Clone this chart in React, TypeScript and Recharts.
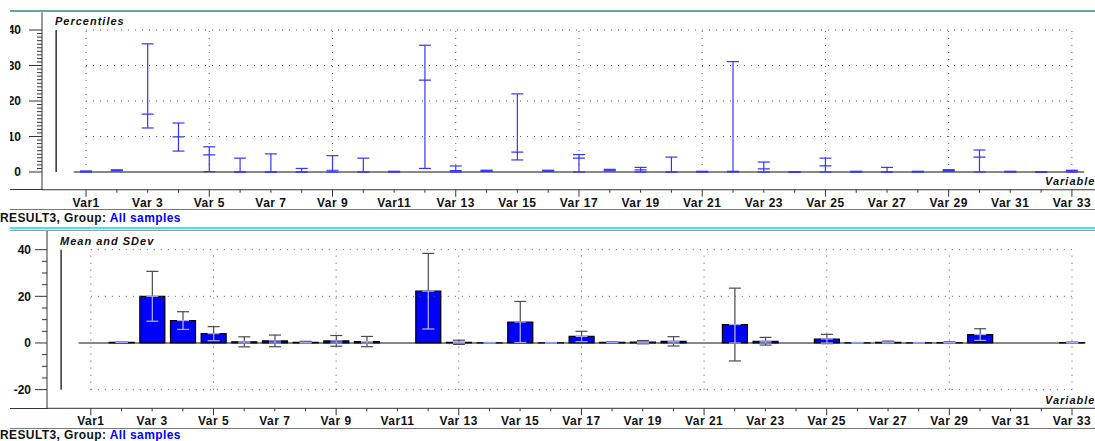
import React from 'react';
import { ComposedChart, Bar, Scatter, ErrorBar, XAxis, YAxis, ReferenceLine } from 'recharts';

const VARIABLES = [
  'Var1', 'Var 2', 'Var 3', 'Var 4', 'Var 5', 'Var 6', 'Var 7', 'Var 8', 'Var 9', 'Var 10',
  'Var11', 'Var 12', 'Var 13', 'Var 14', 'Var 15', 'Var 16', 'Var 17', 'Var 18', 'Var 19', 'Var 20',
  'Var 21', 'Var 22', 'Var 23', 'Var 24', 'Var 25', 'Var 26', 'Var 27', 'Var 28', 'Var 29', 'Var 30',
  'Var 31', 'Var 32', 'Var 33',
];

// percentiles per variable: lower, median, upper
const P_LOW = [
  0, 0.3, 12.4, 5.9, 0.1, 0, 0, 0, 0, 0,
  0, 1.0, 0, 0.2, 3.4, 0.2, 0, 0.3, 0, 0,
  0, 0, 0, 0, 0, 0, 0, 0, 0.2, 0,
  0, 0, 0,
];
const P_MED = [
  0.1, 0.45, 16.3, 9.9, 4.8, 0, 0, 0, 0.5, 0,
  0.1, 25.9, 0.4, 0.35, 5.6, 0.35, 3.9, 0.5, 0.6, 0,
  0.1, 0.15, 0.9, 0, 1.7, 0.1, 0, 0.1, 0.45, 4.2,
  0.1, 0, 0.3,
];
const P_HIGH = [
  0.3, 0.6, 36.1, 13.8, 7.1, 3.9, 5.1, 1.0, 4.6, 3.9,
  0.2, 35.7, 1.7, 0.5, 22.0, 0.5, 4.9, 0.75, 1.3, 4.2,
  0.2, 31.1, 2.8, 0, 3.9, 0.2, 1.3, 0.2, 0.65, 6.2,
  0.2, 0, 0.5,
];

// mean and standard deviation per variable
const MEAN = [
  0, 0.3, 20.0, 9.6, 4.0, 0.5, 0.9, 0.3, 0.9, 0.6,
  0, 22.2, 0.3, 0.1, 9.0, 0.1, 2.8, 0.3, 0.35, 0.7,
  0, 7.9, 0.75, 0, 1.7, 0.1, 0.3, 0.1, 0.2, 3.6,
  0, 0, 0.2,
];
const SDEV = [
  0, 0.1, 10.7, 3.8, 3.0, 2.15, 2.5, 0.4, 2.3, 2.2,
  0, 16.2, 0.9, 0.1, 8.8, 0.1, 2.2, 0.2, 0.7, 2.0,
  0, 15.6, 1.65, 0, 2.0, 0.1, 0.5, 0.1, 0.3, 2.5,
  0, 0, 0.2,
];

const TOP_Y_LABELS = [0, 10, 20, 30, 40];
const BOTTOM_Y_LABELS = [-20, 0, 20, 40];

const FONT = '"Liberation Sans", Arial, sans-serif';
const INDEX_DOMAIN: [number, number] = [-0.43, 33.75];
const X_TICKS = VARIABLES.map((_, i) => i + 1);
const TOP_Y_TICKS = Array.from({ length: 41 }, (_, i) => i);
const BOTTOM_Y_TICKS = Array.from({ length: 13 }, (_, i) => -20 + i * 5);

const LINE_BLUE = '#3535ff';
const BAR_BLUE = '#0000ff';
const DOT = '#555';

const topData = VARIABLES.map((name, i) => ({
  idx: i + 1,
  name,
  median: P_MED[i],
  spread: [P_MED[i] - P_LOW[i], P_HIGH[i] - P_MED[i]],
}));

const bottomData = VARIABLES.map((name, i) => {
  const m = MEAN[i];
  const s = SDEV[i];
  return {
    idx: i + 1,
    name,
    mean: m,
    outline: m,
    sd: s > 0 ? s : null,
    // part of the sd line that sits inside the bar
    inner: m > 0 && s > 0 ? [Math.min(s, m), 0] : null,
  };
});

function VarTick(props: any) {
  const { x, y, payload } = props;
  const i = payload.value as number;
  const long = (i - 1) % 4 === 0;
  return (
    <g>
      <line x1={x} y1={y} x2={x} y2={y + (long ? 7 : 3)} stroke="#333" />
      {i % 2 === 1 && (
        <text
          x={x}
          y={y + 17}
          textAnchor="middle"
          fontFamily={FONT}
          fontWeight="bold"
          fontSize={12}
          letterSpacing={0.5}
          fill="#111"
        >
          {VARIABLES[i - 1]}
        </text>
      )}
    </g>
  );
}

function makeYTick(labels: number[], majorLen: number, minorLen: number, labelGap: number) {
  return function YTick(props: any) {
    const { x, y, payload } = props;
    const v = payload.value as number;
    const major = labels.includes(v);
    return (
      <g>
        <line x1={x - (major ? majorLen : minorLen)} y1={y} x2={x} y2={y} stroke="#333" />
        {major && (
          <text
            x={x - labelGap}
            y={y}
            dy="0.36em"
            textAnchor="end"
            fontFamily={FONT}
            fontWeight="bold"
            fontSize={12}
            fill="#111"
          >
            {v}
          </text>
        )}
      </g>
    );
  };
}

const TopYTick = makeYTick(TOP_Y_LABELS, 13, 5, 21);
const BottomYTick = makeYTick(BOTTOM_Y_LABELS, 12, 5, 16);

function MedianTick(props: any) {
  const { cx, cy } = props;
  return <line x1={cx - 6} x2={cx + 6} y1={cy} y2={cy} stroke={LINE_BLUE} strokeWidth={1.2} />;
}

function gridLines(yMin: number, yMax: number, yLines: number[]) {
  const verticals = X_TICKS.filter((i) => (i - 1) % 4 === 0);
  return [
    ...yLines.map((v) => (
      <ReferenceLine
        key={`h${v}`}
        segment={[{ x: 1, y: v }, { x: 33, y: v }]}
        stroke={DOT}
        strokeDasharray="1 6"
      />
    )),
    ...verticals.map((i) => (
      <ReferenceLine
        key={`v${i}`}
        segment={[{ x: i, y: yMin }, { x: i, y: yMax }]}
        stroke={DOT}
        strokeDasharray="1 6"
      />
    )),
    <ReferenceLine
      key="inner-axis"
      segment={[{ x: 0.03, y: yMin }, { x: 0.03, y: yMax }]}
      stroke="#333"
      strokeWidth={1.5}
    />,
    <ReferenceLine
      key="zero"
      segment={[{ x: 0.6, y: 0 }, { x: 33.4, y: 0 }]}
      stroke="#111"
      strokeWidth={1.2}
    />,
  ];
}

function hLine(left: number, top: number, width: number, height: number, color: string) {
  return (
    <div style={{ position: 'absolute', left, top, width, height, background: color }} />
  );
}

const labelStyle: React.CSSProperties = {
  position: 'absolute',
  fontFamily: FONT,
  fontWeight: 'bold',
  whiteSpace: 'nowrap',
  lineHeight: 1,
};

function Footer({ top }: { top: number }) {
  return (
    <div style={{ ...labelStyle, left: 0, top, fontSize: 12, letterSpacing: 0.4, color: '#111' }}>
      RESULT3, Group: <span style={{ color: '#0000ff' }}>All samples</span>
    </div>
  );
}

export default function App() {
  return (
    <div
      style={{
        position: 'absolute',
        left: 0,
        top: 0,
        width: 1095,
        height: 441,
        background: '#fff',
        overflow: 'hidden',
      }}
    >
      <div style={{ position: 'absolute', left: 0, top: 0 }}>
        <ComposedChart
          width={1095}
          height={230}
          data={topData}
          margin={{ top: 12.25, right: 0, bottom: 10.25, left: 0 }}
        >
          <XAxis
            dataKey="idx"
            type="number"
            domain={INDEX_DOMAIN}
            ticks={X_TICKS}
            interval={0}
            tick={<VarTick />}
            tickLine={false}
            tickSize={0}
            tickMargin={0}
            height={30}
            axisLine={{ stroke: '#333' }}
            allowDataOverflow
          />
          <YAxis
            type="number"
            domain={[-5, 45]}
            ticks={TOP_Y_TICKS}
            interval={0}
            tick={<TopYTick />}
            tickLine={false}
            tickSize={0}
            tickMargin={0}
            width={42}
            axisLine={{ stroke: '#333' }}
            allowDataOverflow
          />
          {gridLines(0, 40, [10, 20, 30, 40])}
          <Scatter dataKey="median" shape={MedianTick} isAnimationActive={false}>
            <ErrorBar
              dataKey="spread"
              direction="y"
              width={6}
              stroke={LINE_BLUE}
              strokeWidth={1.2}
              isAnimationActive={false}
            />
          </Scatter>
        </ComposedChart>
      </div>

      <div style={{ position: 'absolute', left: 0, top: 220 }}>
        <ComposedChart
          width={1095}
          height={221}
          data={bottomData}
          margin={{ top: 11, right: 0, bottom: 7.7, left: 0 }}
          barGap={-25}
        >
          <XAxis
            dataKey="idx"
            type="number"
            domain={INDEX_DOMAIN}
            ticks={X_TICKS}
            interval={0}
            tick={<VarTick />}
            tickLine={false}
            tickSize={0}
            tickMargin={0}
            height={25}
            axisLine={{ stroke: '#333' }}
            allowDataOverflow
          />
          <YAxis
            type="number"
            domain={[-28, 48]}
            ticks={BOTTOM_Y_TICKS}
            interval={0}
            tick={<BottomYTick />}
            tickLine={false}
            tickSize={0}
            tickMargin={0}
            width={47}
            axisLine={{ stroke: '#333' }}
            allowDataOverflow
          />
          {gridLines(-20, 40, [-20, 20, 40])}
          <Bar dataKey="mean" fill={BAR_BLUE} barSize={25} isAnimationActive={false}>
            <ErrorBar dataKey="sd" direction="y" width={6} stroke="#4a4a4a" strokeWidth={1.2} isAnimationActive={false} />
            <ErrorBar dataKey="inner" direction="y" width={6} stroke="#a8a8ff" strokeWidth={1.2} isAnimationActive={false} />
          </Bar>
          <Bar dataKey="outline" fill="none" stroke="#000" strokeWidth={1.2} barSize={25} isAnimationActive={false} />
        </ComposedChart>
      </div>

      {/* window frame lines */}
      {hLine(10, 10, 1085, 2, '#5fa9a4')}
      {hLine(10, 189, 33, 1, '#333')}
      {hLine(10, 209, 1085, 1, '#777')}
      {hLine(10, 227, 1085, 2, '#3de6f2')}
      {hLine(10, 229.5, 1085, 1, '#999')}
      {hLine(10, 408, 38, 1, '#333')}
      {hLine(10, 428, 1085, 1, '#777')}
      <div style={{ position: 'absolute', left: 0, top: 20, width: 10, height: 160, background: '#fff' }} />

      <div style={{ ...labelStyle, left: 55, top: 15.5, fontSize: 11, fontStyle: 'italic', letterSpacing: 1, color: '#111' }}>
        Percentiles
      </div>
      <div style={{ ...labelStyle, left: 60, top: 235.5, fontSize: 11, fontStyle: 'italic', letterSpacing: 1, color: '#111' }}>
        Mean and SDev
      </div>
      <div style={{ ...labelStyle, left: 1045, top: 175.5, fontSize: 11, fontStyle: 'italic', letterSpacing: 1, color: '#111' }}>
        Variable
      </div>
      <div style={{ ...labelStyle, left: 1045, top: 394.5, fontSize: 11, fontStyle: 'italic', letterSpacing: 1, color: '#111' }}>
        Variable
      </div>
      <Footer top={212} />
      <Footer top={429} />
    </div>
  );
}
